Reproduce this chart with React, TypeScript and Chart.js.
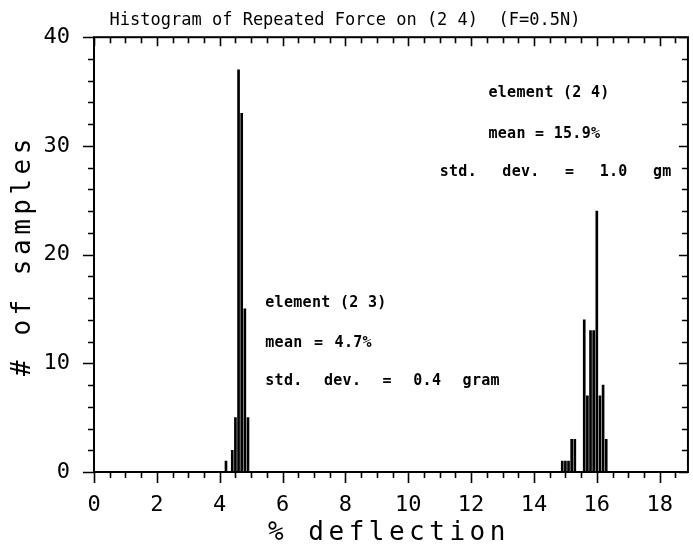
import React, { useEffect, useRef } from 'react';
import { Chart, registerables } from 'chart.js';

Chart.register(...registerables);

// ---- data ----
const TITLE = 'Histogram of Repeated Force on (2 4)  (F=0.5N)';
const X_TITLE = '% deflection';
const Y_TITLE = '# of samples';

const xTickValues = [0, 2, 4, 6, 8, 10, 12, 14, 16, 18];
const yTickValues = [0, 10, 20, 30, 40];

// element (2 3) histogram: bin centres (% deflection) and counts
const bins23 = [4.2, 4.4, 4.5, 4.6, 4.7, 4.8, 4.9];
const counts23 = [1, 2, 5, 37, 33, 15, 5];

// element (2 4) histogram
const bins24 = [14.9, 15.0, 15.1, 15.2, 15.3, 15.6, 15.7, 15.8, 15.9, 16.0, 16.1, 16.2, 16.3];
const counts24 = [1, 1, 1, 3, 3, 14, 7, 13, 13, 24, 7, 8, 3];

// annotation texts with their anchor (data coordinates: x = left edge, y = middle)
const noteTexts = [
  'element (2 4)',
  'mean = 15.9%',
  'std. dev. = 1.0 gm',
  'element (2 3)',
  'mean = 4.7%',
  'std. dev. = 0.4 gram',
];
const noteX = [12.55, 12.55, 11.0, 5.45, 5.45, 5.45];
const noteY = [34.9, 31.1, 27.6, 15.5, 11.9, 8.4];

const MONO = '"DejaVu Sans Mono", "Liberation Mono", monospace';
// word spacing per annotation line (style only)
const noteWordSpacing = ['0px', '0px', '16px', '0px', '2px', '12px'];

const framePlugin = {
  id: 'frame',
  afterDraw(chart: any) {
    const { ctx, chartArea: a, scales } = chart;
    const xs = scales.x;
    const ys = scales.y;
    ctx.save();
    ctx.strokeStyle = '#000';
    ctx.lineCap = 'butt';

    // frame
    ctx.lineWidth = 2;
    ctx.strokeRect(a.left, a.top, a.right - a.left, a.bottom - a.top);

    // x ticks (minor every 0.5, major every 2)
    ctx.lineWidth = 1.6;
    for (let i = 0; i * 0.5 <= xs.max + 1e-9; i++) {
      const v = i * 0.5;
      const px = Math.round(xs.getPixelForValue(v)) + 0.5;
      const major = i % 4 === 0;
      const lb = major ? 11 : 6;
      const lt = major ? 9 : 6;
      ctx.beginPath();
      ctx.moveTo(px, a.bottom);
      ctx.lineTo(px, a.bottom + lb);
      ctx.moveTo(px, a.top);
      ctx.lineTo(px, a.top + lt);
      ctx.stroke();
    }
    // y ticks (minor every 2, major every 10)
    for (let i = 0; i * 2 <= ys.max + 1e-9; i++) {
      const v = i * 2;
      const py = Math.round(ys.getPixelForValue(v)) + 0.5;
      const major = i % 5 === 0;
      const ll = major ? 11 : 6;
      const lr = major ? 9 : 6;
      ctx.beginPath();
      ctx.moveTo(a.left - ll, py);
      ctx.lineTo(a.left, py);
      ctx.moveTo(a.right - lr, py);
      ctx.lineTo(a.right, py);
      ctx.stroke();
    }

    const c: any = ctx;
    const setSpacing = (s: string, w = '0px') => {
      if ('letterSpacing' in c) c.letterSpacing = s;
      if ('wordSpacing' in c) c.wordSpacing = w;
    };

    // title
    ctx.fillStyle = '#000';
    ctx.textAlign = 'center';
    ctx.textBaseline = 'middle';
    ctx.font = `17px ${MONO}`;
    setSpacing('0px');
    ctx.fillText(TITLE, 345, 21);

    // x axis title
    ctx.font = `26px ${MONO}`;
    setSpacing('4.5px');
    ctx.fillText(X_TITLE, (a.left + a.right) / 2 - 2, 533);

    // y axis title
    ctx.save();
    ctx.translate(23, 255);
    ctx.rotate(-Math.PI / 2);
    ctx.fillText(Y_TITLE, 0, 0);
    ctx.restore();

    // annotations
    ctx.textAlign = 'left';
    ctx.font = `bold 15px ${MONO}`;
    noteTexts.forEach((t, i) => {
      setSpacing('0.3px', noteWordSpacing[i]);
      ctx.fillText(t, xs.getPixelForValue(noteX[i]), ys.getPixelForValue(noteY[i]));
    });
    setSpacing('0px');
    ctx.restore();
  },
};

export default function App() {
  const ref = useRef<HTMLCanvasElement | null>(null);

  useEffect(() => {
    document.body.style.margin = '0';
    const canvas = ref.current!;
    const chart = new Chart(canvas, {
      type: 'bar',
      data: {
        datasets: [
          {
            label: 'element (2 3)',
            data: bins23.map((x, i) => ({ x, y: counts23[i] })),
            backgroundColor: '#000',
            borderWidth: 0,
            barThickness: 2,
            grouped: false,
          } as any,
          {
            label: 'element (2 4)',
            data: bins24.map((x, i) => ({ x, y: counts24[i] })),
            backgroundColor: '#000',
            borderWidth: 0,
            barThickness: 2,
            grouped: false,
          } as any,
        ],
      },
      options: {
        animation: false,
        responsive: false,
        devicePixelRatio: 1,
        layout: { padding: { top: 37, right: 2, left: 0, bottom: 0 } },
        plugins: {
          legend: { display: false },
          tooltip: { enabled: false },
          title: { display: false },
        },
        scales: {
          x: {
            type: 'linear',
            min: 0,
            max: 18.9,
            offset: false,
            grid: { display: false, drawTicks: false },
            border: { display: false },
            afterBuildTicks: (s: any) => {
              s.ticks = xTickValues.map((v) => ({ value: v }));
            },
            afterFit: (s: any) => {
              s.height = 72;
            },
            ticks: {
              padding: 20,
              maxRotation: 0,
              autoSkip: false,
              color: '#000',
              font: { family: MONO, size: 22 },
              callback: (v: any) => String(v),
            },
          },
          y: {
            type: 'linear',
            min: 0,
            max: 40,
            grid: { display: false, drawTicks: false },
            border: { display: false },
            afterBuildTicks: (s: any) => {
              s.ticks = yTickValues.map((v) => ({ value: v }));
            },
            afterFit: (s: any) => {
              s.width = 94;
            },
            ticks: {
              padding: 24,
              color: '#000',
              font: { family: MONO, size: 22 },
              callback: (v: any) => String(v),
            },
          },
        },
      } as any,
      plugins: [framePlugin],
    });
    return () => chart.destroy();
  }, []);

  return (
    <div style={{ width: 693, height: 544, background: '#fff' }}>
      <canvas ref={ref} width={693} height={544} style={{ display: 'block' }} />
    </div>
  );
}
